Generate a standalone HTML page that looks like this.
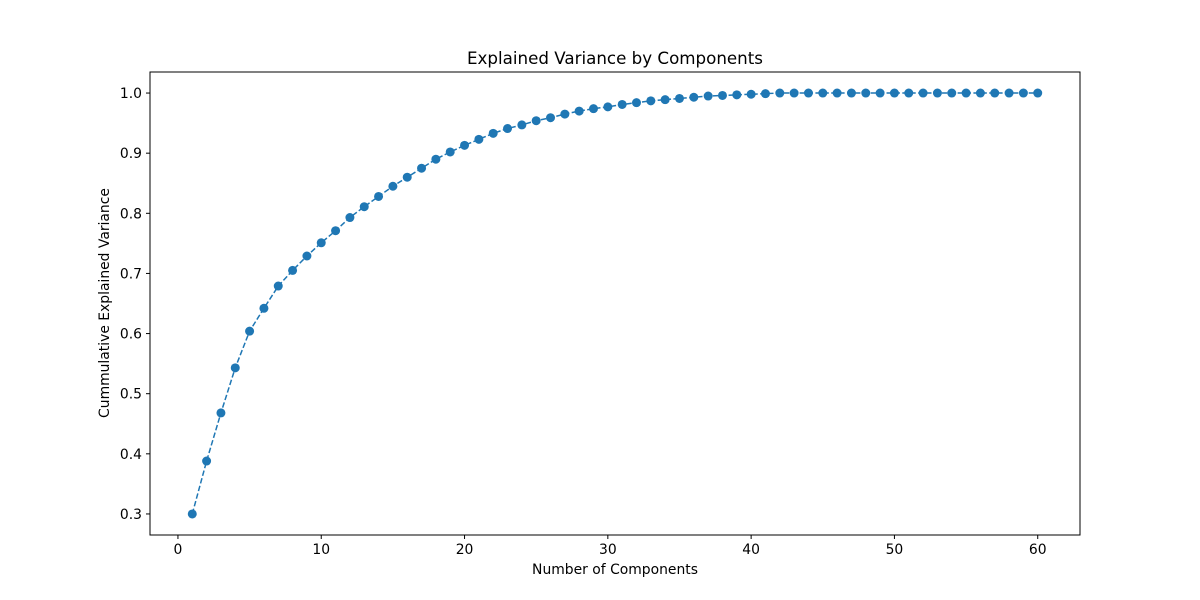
<!DOCTYPE html>
<html><head><meta charset="utf-8"><style>
html,body{margin:0;padding:0;background:#fff;}
svg{display:block;font-family:"DejaVu Sans","Liberation Sans",sans-serif;}
</style></head><body>
<svg id="chart" width="1200" height="600" xmlns="http://www.w3.org/2000/svg">
<rect width="1200" height="600" fill="#fff"/>
<text x="615" y="64" text-anchor="middle" font-size="16.7" fill="#000">Explained Variance by Components</text>
<text x="615" y="574" text-anchor="middle" font-size="13.9" fill="#000">Number of Components</text>
<text transform="translate(109,303) rotate(-90)" text-anchor="middle" font-size="13.9" fill="#000">Cummulative Explained Variance</text>
<g id="xt"></g>
<g id="yt"></g>
<g id="series"></g>
<rect x="150" y="72" width="930" height="463" fill="none" stroke="#000" stroke-width="1"/>
</svg>
<script>
const components = [];
for (let i = 1; i <= 60; i++) components.push(i);
const cumulativeVariance = [0.300,0.388,0.468,0.543,0.604,0.642,0.679,0.705,0.729,0.751,0.771,0.793,0.811,0.828,0.845,0.860,0.875,0.890,0.902,0.913,0.923,0.933,0.941,0.947,0.954,0.959,0.965,0.970,0.974,0.977,0.981,0.984,0.987,0.989,0.991,0.993,0.995,0.996,0.997,0.998,0.999,1.0,1.0,1.0,1.0,1.0,1.0,1.0,1.0,1.0,1.0,1.0,1.0,1.0,1.0,1.0,1.0,1.0,1.0,1.0];
const xTicks = [0,10,20,30,40,50,60];
const yTicks = [0.3,0.4,0.5,0.6,0.7,0.8,0.9,1.0];

const NS = "http://www.w3.org/2000/svg";
const L = 150, R = 1080, T = 72, B = 535;
const xmin0 = Math.min(...components), xmax0 = Math.max(...components);
const xpad = (xmax0 - xmin0) * 0.05;
const xmin = xmin0 - xpad, xmax = xmax0 + xpad;
const ymin0 = Math.min(...cumulativeVariance), ymax0 = Math.max(...cumulativeVariance);
const ypad = (ymax0 - ymin0) * 0.05;
const ymin = ymin0 - ypad, ymax = ymax0 + ypad;
const sx = v => L + (v - xmin) / (xmax - xmin) * (R - L);
const sy = v => B - (v - ymin) / (ymax - ymin) * (B - T);
function mk(tag, attrs, parent) {
  const e = document.createElementNS(NS, tag);
  for (const k in attrs) e.setAttribute(k, attrs[k]);
  parent.appendChild(e);
  return e;
}
const xt = document.getElementById('xt');
xTicks.forEach(v => {
  const x = sx(v);
  const ln = mk('line', {x1: x, x2: x, y1: B, y2: B + 4, stroke: '#000'}, xt);
  
  
  const t = mk('text', {x: x, y: B + 19, 'text-anchor': 'middle', 'font-size': 13.9}, xt);
  t.textContent = v;
  
  
});
const yt = document.getElementById('yt');
yTicks.forEach(v => {
  const y = sy(v);
  const ln = mk('line', {x1: L - 4, x2: L, y1: y, y2: y, stroke: '#000'}, yt);
  
  
  const t = mk('text', {x: L - 8, y: y + 5, 'text-anchor': 'end', 'font-size': 13.9}, yt);
  t.textContent = v.toFixed(1);
  
  
});
const g = document.getElementById('series');
const pts = components.map((c, i) => sx(c).toFixed(2) + ',' + sy(cumulativeVariance[i]).toFixed(2)).join(' ');
const pl = mk('polyline', {points: pts, fill: 'none', stroke: '#1f77b4', 'stroke-width': 1.5, 'stroke-dasharray': '5.5,2.4'}, g);


components.forEach((c, i) => {
  const p = mk('circle', {cx: sx(c), cy: sy(cumulativeVariance[i]), r: 4.5, fill: '#1f77b4'}, g);
  
  
});
</script>
</body></html>
